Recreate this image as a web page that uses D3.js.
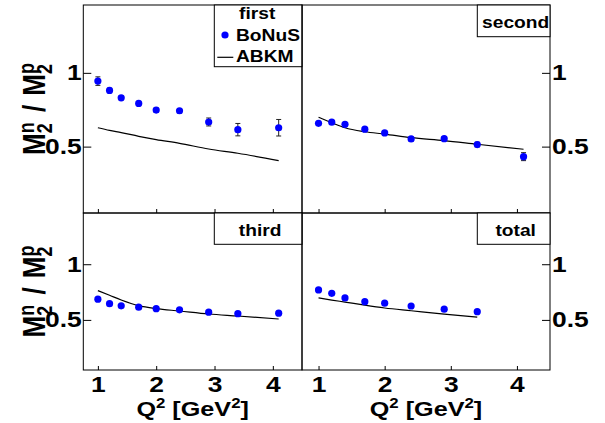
<!DOCTYPE html>
<html>
<head>
<meta charset="utf-8">
<script src="https://cdn.jsdelivr.net/npm/d3@7"></script>
<style>
  body { margin: 0; background: #fff; }
  text { font-family: "Liberation Sans", Arial, sans-serif; font-weight: bold; fill: #000; }
</style>
</head>
<body>
<svg id="chart"></svg>
<script>
// Q^2 bins [GeV^2]
const q2 = [1.0, 1.2, 1.4, 1.7, 2.0, 2.4, 2.9, 3.4, 4.1];
const q2Total = [1.0, 1.2, 1.4, 1.7, 2.0, 2.4, 2.9, 3.4];

// BoNuS points, errors and ABKM curve, one set per resonance region
const firstBonus = [0.944, 0.881, 0.831, 0.793, 0.748, 0.743, 0.667, 0.615, 0.628];
const firstErr = [0.029, 0.015, 0.014, 0.014, 0.014, 0.015, 0.027, 0.042, 0.056];
const firstAbkm = [0.628, 0.610, 0.595, 0.570, 0.548, 0.522, 0.484, 0.455, 0.405];

const secondBonus = [0.658, 0.666, 0.651, 0.618, 0.593, 0.552, 0.554, 0.514, 0.432];
const secondErr = [0.012, 0.012, 0.012, 0.012, 0.012, 0.013, 0.014, 0.016, 0.027];
const secondAbkm = [0.699, 0.662, 0.628, 0.601, 0.585, 0.561, 0.541, 0.516, 0.482];

const thirdBonus = [0.686, 0.646, 0.626, 0.614, 0.601, 0.590, 0.569, 0.556, 0.560];
const thirdErr = [0.010, 0.010, 0.010, 0.010, 0.010, 0.010, 0.011, 0.012, 0.014];
const thirdAbkm = [0.763, 0.721, 0.679, 0.628, 0.601, 0.580, 0.553, 0.535, 0.508];

const totalBonus = [0.769, 0.739, 0.697, 0.664, 0.650, 0.625, 0.596, 0.574];
const totalErr = [0.010, 0.010, 0.010, 0.010, 0.010, 0.010, 0.011, 0.012];
const totalAbkm = [0.698, 0.678, 0.660, 0.632, 0.607, 0.582, 0.551, 0.524];

const xTicks = [1, 2, 3, 4];
const yTicks = [0.5, 1];

const width = 605;
const height = 423;
const frameX = {left: [83.3, 302], right: [302, 550]};
const frameY = {top: [5, 213], bottom: [213, 370]};
const stretch = 'scale(1.2,1)';

const svg = d3.select('#chart')
  .attr('width', width)
  .attr('height', height);

const panels = [
  {name: 'first', col: 'left', row: 'top', x: q2, y: firstBonus, err: firstErr, abkm: firstAbkm,
   box: [214.3, 302, 5, 66.7]},
  {name: 'second', col: 'right', row: 'top', x: q2, y: secondBonus, err: secondErr, abkm: secondAbkm,
   box: [477.3, 550, 5, 36.7]},
  {name: 'third', col: 'left', row: 'bottom', x: q2, y: thirdBonus, err: thirdErr, abkm: thirdAbkm,
   box: [214.3, 302, 213, 244.3]},
  {name: 'total', col: 'right', row: 'bottom', x: q2Total, y: totalBonus, err: totalErr, abkm: totalAbkm,
   box: [477.3, 550, 213, 244.3]}
];

panels.forEach(p => drawPanel(p));

function drawPanel(p) {
  const [x0, x1] = frameX[p.col];
  const [y0, y1] = frameY[p.row];
  const xScale = d3.scaleLinear().domain([0.75, 4.5]).range([x0, x1]);
  const yScale = d3.scaleLinear().domain([0.05, 1.46]).range([y1, y0]);
  const g = svg.append('g');

  // x axis, ticks pointing inward
  const xAxis = d3.axisBottom(xScale)
    .tickValues(xTicks)
    .tickSize(-4)
    .tickPadding(6)
    .tickFormat(p.row == 'bottom' ? d3.format('d') : '');
  const xg = g.append('g')
    .attr('transform', `translate(0, ${y1})`)
    .call(xAxis);
  styleAxis(xg);

  // y axis on the outer side of the pad
  const yAxis = (p.col == 'left' ? d3.axisLeft(yScale) : d3.axisRight(yScale))
    .tickValues(yTicks)
    .tickSize(-8)
    .tickPadding(p.col == 'left' ? 1.3 : 1.7)
    .tickFormat(d => d == 1 ? '1' : '0.5');
  const yg = g.append('g')
    .attr('transform', `translate(${p.col == 'left' ? x0 : x1}, 0)`)
    .call(yAxis);
  styleAxis(yg);

  g.append('rect')
    .attr('x', x0).attr('y', y0)
    .attr('width', x1 - x0).attr('height', y1 - y0)
    .attr('fill', 'none').attr('stroke', '#000').attr('stroke-width', 1);

  // ABKM curve
  const line = d3.line()
    .x((d, i) => xScale(p.x[i]))
    .y(d => yScale(d))
    .curve(d3.curveMonotoneX);
  g.append('path')
    .datum(p.abkm)
    .attr('d', line)
    .attr('fill', 'none')
    .attr('stroke', '#000')
    .attr('stroke-width', 1.2);

  // error bars
  const pts = p.y.map((v, i) => ({x: p.x[i], y: v, e: p.err[i]}));
  const bars = g.selectAll('.err').data(pts).enter().append('g')
    .attr('stroke', '#222').attr('stroke-width', 1);
  bars.append('line')
    .attr('x1', d => xScale(d.x)).attr('x2', d => xScale(d.x))
    .attr('y1', d => yScale(d.y - d.e)).attr('y2', d => yScale(d.y + d.e));
  [-1, 1].forEach(s => {
    bars.append('line')
      .attr('x1', d => xScale(d.x) - 2.5).attr('x2', d => xScale(d.x) + 2.5)
      .attr('y1', d => yScale(d.y + s * d.e)).attr('y2', d => yScale(d.y + s * d.e));
  });

  g.selectAll('circle').data(pts).enter().append('circle')
    .attr('cx', d => xScale(d.x))
    .attr('cy', d => yScale(d.y))
    .attr('r', 3.6)
    .attr('fill', '#0000ff');

  // title box
  const [bx0, bx1, by0, by1] = p.box;
  g.append('rect')
    .attr('x', bx0).attr('y', by0)
    .attr('width', bx1 - bx0).attr('height', by1 - by0)
    .attr('fill', '#fff').attr('stroke', '#000').attr('stroke-width', 1);

  if (p.name == 'first') {
    drawLegend(g, bx0, bx1, by0);
  } else {
    g.append('text')
      .attr('transform', `translate(${(bx0 + bx1) / 2 + 2}, ${by0 + 23}) ${stretch}`)
      .attr('text-anchor', 'middle')
      .attr('font-size', 16)
      .text(p.name);
  }

  if (p.col == 'left') drawYTitle(45, (y0 + y1) / 2);
  if (p.row == 'bottom') drawXTitle((x0 + x1) / 2, 415.5);
}

function styleAxis(axisG) {
  axisG.select('.domain').remove();
  axisG.selectAll('line').attr('stroke', '#000').attr('stroke-width', 1);
  axisG.selectAll('text')
    .attr('font-size', 22)
    .attr('font-family', '"Liberation Sans", Arial, sans-serif')
    .attr('font-weight', 'bold')
    .attr('fill', '#000')
    .attr('transform', stretch);
}

function drawLegend(g, bx0, bx1, by0) {
  g.append('text')
    .attr('transform', `translate(${(bx0 + bx1) / 2 - 1}, ${by0 + 13.5}) ${stretch}`)
    .attr('text-anchor', 'middle')
    .attr('font-size', 16)
    .text('first');
  g.append('circle')
    .attr('cx', bx0 + 10.7).attr('cy', by0 + 30)
    .attr('r', 3.6).attr('fill', '#0000ff');
  g.append('text')
    .attr('transform', `translate(${bx0 + 21.7}, ${by0 + 35.7}) ${stretch}`)
    .attr('font-size', 16)
    .text('BoNuS');
  g.append('line')
    .attr('x1', bx0 + 3).attr('x2', bx0 + 19)
    .attr('y1', by0 + 52.3).attr('y2', by0 + 52.3)
    .attr('stroke', '#000').attr('stroke-width', 1.2);
  g.append('text')
    .attr('transform', `translate(${bx0 + 21.7}, ${by0 + 56.7}) ${stretch}`)
    .attr('font-size', 16)
    .text('ABKM');
}

function drawYTitle(x, cy) {
  const t = svg.append('text')
    .attr('transform', `translate(${x}, ${cy}) rotate(-90) scale(1,1.2)`)
    .attr('text-anchor', 'middle')
    .attr('font-size', 26);
  t.append('tspan').text('M');
  t.append('tspan').attr('font-size', 18).attr('dy', -9).text('n');
  t.append('tspan').attr('font-size', 18).attr('dx', -11).attr('dy', 15).text('2');
  t.append('tspan').attr('dx', 4).attr('dy', -6).text(' / ');
  t.append('tspan').attr('dx', 2).text('M');
  t.append('tspan').attr('font-size', 18).attr('dy', -9).text('p');
  t.append('tspan').attr('font-size', 18).attr('dx', -11).attr('dy', 15).text('2');
}

function drawXTitle(cx, y) {
  const t = svg.append('text')
    .attr('transform', `translate(${cx}, ${y}) ${stretch}`)
    .attr('text-anchor', 'middle')
    .attr('font-size', 21);
  t.append('tspan').text('Q');
  t.append('tspan').attr('font-size', 14).attr('dy', -8).text('2');
  t.append('tspan').attr('dy', 8).text(' [GeV');
  t.append('tspan').attr('font-size', 14).attr('dy', -8).text('2');
  t.append('tspan').attr('dy', 8).text(']');
}
</script>
</body>
</html>
